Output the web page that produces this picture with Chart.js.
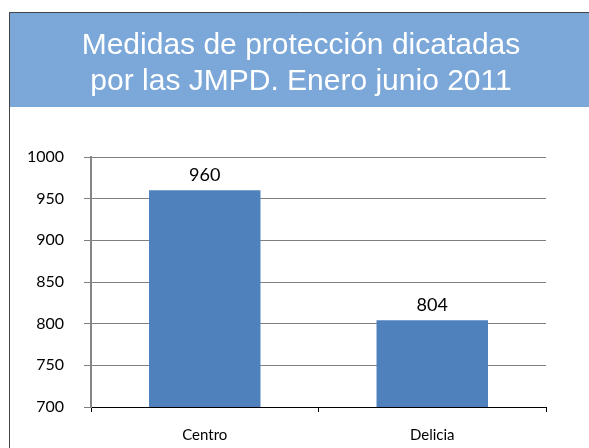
<!DOCTYPE html>
<html>
<head>
<meta charset="utf-8">
<script src="https://cdn.jsdelivr.net/npm/chart.js@4/dist/chart.umd.min.js"></script>
<style>
  html, body { margin: 0; padding: 0; background: #fff; }
  #wrap { width: 589px; height: 448px; }
</style>
</head>
<body>
<div id="wrap"><canvas id="chart" width="589" height="448"></canvas></div>
<script>
// datos
var categorias = ['Centro', 'Delicia'];
var medidas = [960, 804];
var tituloLineas = ['Medidas de protección dicatadas', 'por las JMPD. Enero junio 2011'];
var ejeMin = 700;
var ejeMax = 1000;
var ejePaso = 50;

// cabecera azul con el titulo y el marco
var cabecera = {
  id: 'cabecera',
  beforeDraw: function(chart) {
    var ctx = chart.ctx;
    ctx.save();
    ctx.fillStyle = '#fff';
    ctx.fillRect(0, 0, chart.width, chart.height);
    ctx.fillStyle = '#7ca7d9';
    ctx.fillRect(9, 12, chart.width - 9, 95);
    ctx.strokeStyle = '#444';
    ctx.lineWidth = 1;
    ctx.beginPath();
    ctx.moveTo(9.5, chart.height);
    ctx.lineTo(9.5, 12.5);
    ctx.lineTo(chart.width, 12.5);
    ctx.stroke();
    ctx.fillStyle = '#fff';
    ctx.font = '30px "Liberation Sans", Arial, sans-serif';
    ctx.textAlign = 'center';
    ctx.textBaseline = 'alphabetic';
    tituloLineas.forEach(function(t, i) {
      ctx.fillText(t, 301, 54 + i * 36);
    });
    ctx.restore();
  }
};

// etiquetas de valor encima de cada barra
var etiquetas = {
  id: 'etiquetas',
  afterDatasetsDraw: function(chart) {
    var ctx = chart.ctx;
    var meta = chart.getDatasetMeta(0);
    ctx.save();
    ctx.fillStyle = '#000';
    ctx.font = '18px Lato, sans-serif';
    ctx.textAlign = 'center';
    ctx.textBaseline = 'bottom';
    meta.data.forEach(function(bar, i) {
      ctx.fillText(String(medidas[i]), bar.x, bar.y - 6);
    });
    ctx.restore();
  }
};

new Chart(document.getElementById('chart'), {
  type: 'bar',
  data: {
    labels: categorias,
    datasets: [{
      data: medidas,
      backgroundColor: '#4f81bd',
      borderWidth: 0,
      categoryPercentage: 1,
      barPercentage: 0.49
    }]
  },
  options: {
    responsive: false,
    animation: false,
    layout: { padding: { left: 9, right: 43, top: 157, bottom: 0 } },
    plugins: {
      legend: { display: false },
      tooltip: { enabled: false },
      title: { display: false }
    },
    scales: {
      x: {
        afterFit: function(scale) { scale.height = 41; },
        grid: { drawOnChartArea: false, drawTicks: true, tickLength: 5, color: '#000', offset: true },
        border: { color: '#000', width: 1 },
        ticks: { color: '#000', font: { family: 'Lato', size: 15 }, padding: 14 }
      },
      y: {
        min: ejeMin,
        max: ejeMax,
        afterFit: function(scale) { scale.width = 82; },
        grid: { color: '#7f7f7f', lineWidth: 1, tickLength: 7, tickColor: '#7f7f7f' },
        border: { color: '#868686', width: 2 },
        ticks: {
          stepSize: ejePaso, color: '#000', font: { family: 'Lato', size: 16 }, padding: 20,
          callback: function(v) { return String(v); }
        }
      }
    }
  },
  plugins: [cabecera, etiquetas]
});
</script>
</body>
</html>
